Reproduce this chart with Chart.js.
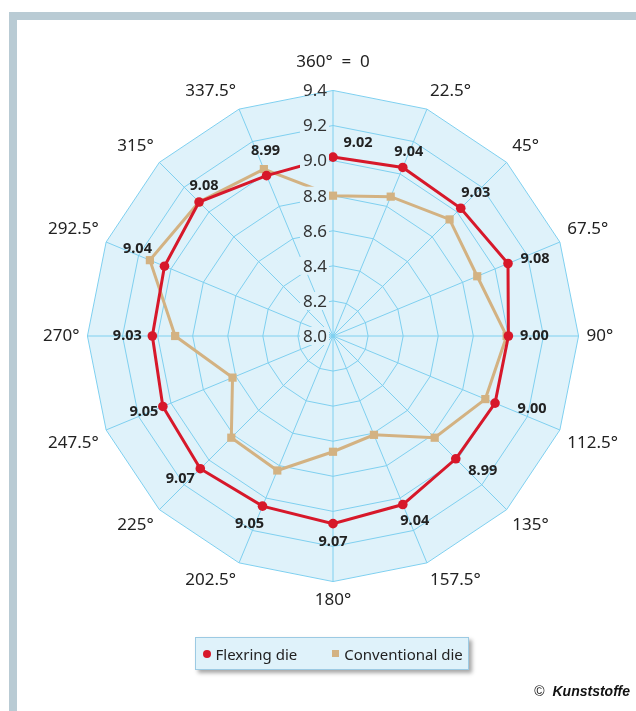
<!DOCTYPE html>
<html>
<head>
<meta charset="utf-8">
<script src="https://cdn.jsdelivr.net/npm/chart.js@4/dist/chart.umd.min.js"></script>
<style>
  html, body { margin: 0; padding: 0; background: #fff; }
  body { width: 636px; height: 711px; position: relative; overflow: hidden; font-family: 'Noto Sans', sans-serif; }
  #barTop { position: absolute; left: 9px; top: 12px; width: 627px; height: 8px; background: #b9cbd4; }
  #barLeft { position: absolute; left: 9px; top: 12px; width: 8px; height: 699px; background: #b9cbd4; }
  #wrap { position: absolute; left: 0; top: 0; width: 636px; height: 711px; }
  #legend { position: absolute; left: 195px; top: 637px; width: 274px; height: 33px; box-sizing: border-box;
            background: #dff2fa; border: 1.5px solid #9ccae3; box-shadow: 3px 3px 4px rgba(0,0,0,0.35);
            display: flex; align-items: center; padding-left: 6.5px; font-size: 15px; color: #222; white-space: nowrap; }
  #legend .item { display: flex; align-items: center; flex: none; }
  #legend .item + .item { margin-left: 35px; }
  #legend .mark { width: 7px; height: 7px; margin-right: 5px; flex: none; }
  #legend .circle { border-radius: 50%; width: 8px; height: 8px; }
  #credit { position: absolute; right: 6px; top: 683px; font-family: 'Liberation Sans', Arial, sans-serif; font-size: 14px; color: #111; }
  #credit b { font-style: italic; }
</style>
</head>
<body>
<div id="barTop"></div>
<div id="barLeft"></div>
<div id="wrap"><canvas id="radar"></canvas></div>
<div id="legend"></div>
<div id="credit">©&nbsp; <b>Kunststoffe</b></div>
<script>
const angles = ["360°  =  0", "22.5°", "45°", "67.5°", "90°", "112.5°", "135°", "157.5°",
                "180°", "202.5°", "225°", "247.5°", "270°", "292.5°", "315°", "337.5°"];
const flexring = [9.02, 9.04, 9.03, 9.08, 9.00, 9.00, 8.99, 9.04,
                  9.07, 9.05, 9.07, 9.05, 9.03, 9.04, 9.08, 8.99];
const conventional = [8.80, 8.86, 8.94, 8.89, 8.99, 8.94, 8.82, 8.61,
                      8.66, 8.83, 8.82, 8.62, 8.90, 9.13, 9.08, 9.03];
const rMin = 8.0, rMax = 9.4, rStep = 0.2;

// where each value label sits relative to its point (px)
const labelOffsets = [[25,-14],[6,-16],[15,-15],[27,-5],[26,0],[37,6],[27,12],[12,16],
                      [0,18],[-13,18],[-20,10],[-19,5],[-25,0],[-27,-17],[5,-16],[-1,-25]];

const FILL = '#dff2fa';
const GRID = '#7fd0f0';
const RED = '#d7182a';
const TAN = '#d3b282';

// tick labels sit left of the 0° spoke with a backdrop that hides lines behind them
const tickLabels = {
    id: 'tickLabels',
    afterDatasetsDraw(chart) {
        const scale = chart.scales.r;
        const ctx = chart.ctx;
        ctx.save();
        ctx.font = "17px 'Noto Sans'";
        ctx.textAlign = 'center';
        ctx.textBaseline = 'middle';
        scale.ticks.forEach((t, i) => {
            const y = scale.yCenter - scale.getDistanceFromCenterForValue(t.value);
            const x = scale.xCenter - 18;
            const text = t.value.toFixed(1);
            const w = ctx.measureText(text).width;
            if (i < scale.ticks.length - 1) {
                ctx.fillStyle = FILL;
                ctx.fillRect(x - w / 2 - 3, y - 9, w + 5, 18);
            }
            ctx.fillStyle = '#333';
            ctx.fillText(text, x, y + 1);
        });
        ctx.restore();
    }
};

const valueLabels = {
    id: 'valueLabels',
    afterDatasetsDraw(chart) {
        const meta = chart.getDatasetMeta(0);
        const ctx = chart.ctx;
        ctx.save();
        ctx.font = "bold 14.5px 'Noto Sans'";
        ctx.fillStyle = '#222';
        ctx.textAlign = 'center';
        ctx.textBaseline = 'middle';
        meta.data.forEach((pt, i) => {
            const o = labelOffsets[i];
            ctx.fillText(flexring[i].toFixed(2), pt.x + o[0], pt.y + o[1]);
        });
        ctx.restore();
    }
};

Chart.defaults.font.family = "'Noto Sans', sans-serif";

const chart = new Chart(document.getElementById('radar'), {
    type: 'radar',
    data: {
        labels: angles,
        datasets: [
            {label: 'Flexring die', data: flexring, borderColor: RED, backgroundColor: RED,
             borderWidth: 3, pointStyle: 'circle', pointRadius: 4.8, pointBackgroundColor: RED,
             pointBorderColor: RED, pointBorderWidth: 0, fill: false},
            {label: 'Conventional die', data: conventional, borderColor: TAN, backgroundColor: TAN,
             borderWidth: 3, pointStyle: 'rect', pointRadius: 5.8, pointBackgroundColor: TAN,
             pointBorderColor: TAN, pointBorderWidth: 0, fill: false}
        ]
    },
    options: {
        responsive: true,
        maintainAspectRatio: false,
        animation: false,
        elements: {line: {tension: 0}},
        layout: {padding: {left: 41, right: 15, top: 41, bottom: 90}},
        scales: {
            r: {
                min: rMin, max: rMax,
                ticks: {stepSize: rStep, display: false},
                backgroundColor: FILL,
                grid: {color: GRID, lineWidth: 1},
                angleLines: {color: GRID, lineWidth: 1},
                pointLabels: {
                    color: '#222',
                    font: {size: 17},
                    padding: c => c.index === 0 ? 18 : 8
                }
            }
        },
        plugins: {
            tooltip: {enabled: false},
            legend: {display: false}
        }
    },
    plugins: [tickLabels, valueLabels]
});

// legend box below the chart, built from the datasets
const legendEl = document.getElementById('legend');
chart.data.datasets.forEach(ds => {
    const item = document.createElement('div');
    item.className = 'item';
    const mark = document.createElement('span');
    mark.className = 'mark' + (ds.pointStyle === 'circle' ? ' circle' : '');
    mark.style.background = ds.borderColor;
    const txt = document.createElement('span');
    txt.textContent = ds.label;
    item.appendChild(mark);
    item.appendChild(txt);
    legendEl.appendChild(item);
});
</script>
</body>
</html>
